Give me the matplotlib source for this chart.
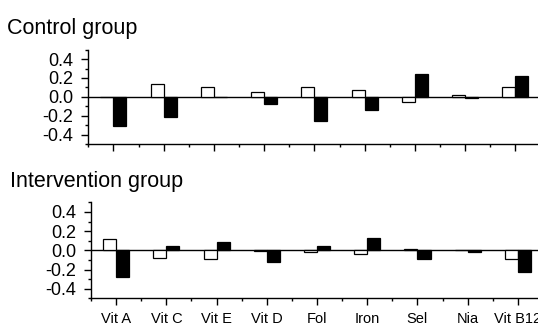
import numpy as np
import matplotlib
matplotlib.use('Agg')
import matplotlib.pyplot as plt
from matplotlib.ticker import MultipleLocator

plt.rcParams['font.family'] = ['Liberation Sans', 'DejaVu Sans']

nutrients = ['Vit A', 'Vit C', 'Vit E', 'Vit D', 'Fol', 'Iron', 'Sel', 'Nia', 'Vit B12']

# control group: open bars (left) and filled bars (right)
control_open = [-0.005, 0.14, 0.105, 0.05, 0.10, 0.07, -0.05, 0.015, 0.105]
control_fill = [-0.305, -0.21, -0.005, -0.08, -0.26, -0.135, 0.24, -0.015, 0.22]

# intervention group
interv_open = [0.115, -0.075, -0.09, -0.003, -0.02, -0.04, 0.01, 0.003, -0.09]
interv_fill = [-0.28, 0.05, 0.09, -0.12, 0.04, 0.13, -0.09, -0.02, -0.225]

W, H = 538, 327
fig = plt.figure(figsize=(W / 100, H / 100), dpi=100)
fig.patch.set_facecolor('white')

x = np.arange(1, len(nutrients) + 1)
bw = 0.26


def draw_panel(ax, opened, filled, xmax, show_labels):
    ax.bar(x - bw / 2, opened, bw, facecolor='white', edgecolor='black', linewidth=0.9)
    ax.bar(x + bw / 2, filled, bw, facecolor='black', edgecolor='black', linewidth=0.9)
    ax.axhline(0, color='black', linewidth=1.0, zorder=0)
    ax.set_xlim(0.5, xmax)
    ax.set_ylim(-0.5, 0.5)
    ax.spines['top'].set_visible(False)
    ax.spines['right'].set_visible(False)
    for s in ('left', 'bottom'):
        ax.spines[s].set_linewidth(1.0)
    ax.set_xticks(x)
    ax.xaxis.set_minor_locator(MultipleLocator(0.5))
    ax.yaxis.set_minor_locator(MultipleLocator(0.1))
    ax.set_yticks([-0.4, -0.2, 0.0, 0.2, 0.4])
    ax.set_yticklabels(['-0.4', '-0.2', '0.0', '0.2', '0.4'])
    ax.tick_params(which='major', direction='out', length=4.8, width=1.0)
    ax.tick_params(which='minor', direction='out', length=2.5, width=1.0)
    ax.tick_params(axis='y', labelsize=13, pad=6)
    if show_labels:
        ax.set_xticklabels(nutrients, fontsize=10.5)
        ax.tick_params(axis='x', pad=5)
    else:
        ax.set_xticklabels([])


ax1 = fig.add_axes([88.3 / W, (H - 144) / H, 1 - 88.3 / W, 94.3 / H])
draw_panel(ax1, control_open, control_fill, 9.45, False)

ax2 = fig.add_axes([91 / W, (H - 298.3) / H, 1 - 91 / W, 96 / H])
draw_panel(ax2, interv_open, interv_fill, 9.40, True)

fig.text(7 / W, 1 - 34.3 / H, 'Control group', fontsize=15.5, va='baseline')
fig.text(10 / W, 1 - 187 / H, 'Intervention group', fontsize=15.5, va='baseline')

fig.savefig('out.png', dpi=100, facecolor='white')
